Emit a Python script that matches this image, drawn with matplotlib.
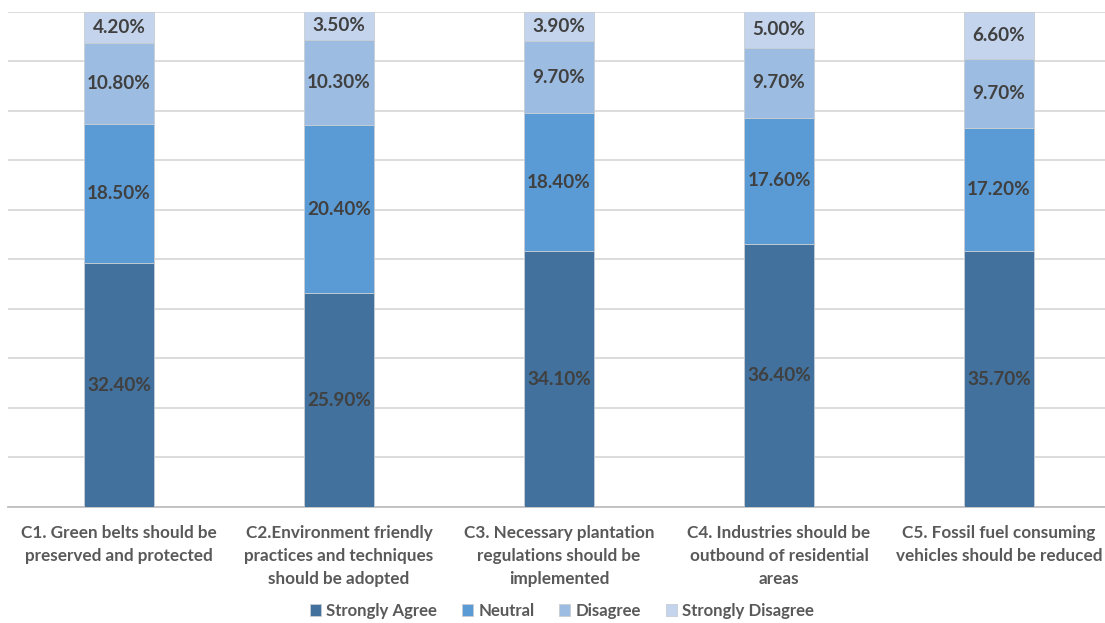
import matplotlib
matplotlib.use("Agg")
import matplotlib.pyplot as plt
import numpy as np

categories = [
    "C1. Green belts should be\npreserved and protected",
    "C2.Environment friendly\npractices and techniques\nshould be adopted",
    "C3. Necessary plantation\nregulations should be\nimplemented",
    "C4. Industries should be\noutbound of residential\nareas",
    "C5. Fossil fuel consuming\nvehicles should be reduced",
]
series_names = ["Strongly Agree", "Neutral", "Disagree", "Strongly Disagree"]
strongly_agree = [32.4, 25.9, 34.1, 36.4, 35.7]
neutral = [18.5, 20.4, 18.4, 17.6, 17.2]
disagree = [10.8, 10.3, 9.7, 9.7, 9.7]
strongly_disagree = [4.2, 3.5, 3.9, 5.0, 6.6]

colors = ["#41719C", "#5B9BD5", "#9CBCE1", "#C3D4EC"]

plt.rcParams['font.family'] = ['Lato', 'DejaVu Sans']

fig = plt.figure(figsize=(11.05, 6.23), dpi=100)
ax = fig.add_axes([8/1105, 1 - 507/623, 1 - 8/1105, (507 - 11.5)/623])

data = np.array([strongly_agree, neutral, disagree, strongly_disagree])
totals = data.sum(axis=0)
shares = data / totals * 100

x = np.arange(len(categories))
bottom = np.zeros(len(categories))
handles = []
for i, name in enumerate(series_names):
    b = ax.bar(x, shares[i], 0.315, bottom=bottom, color=colors[i],
               edgecolor="#c8cdd3", linewidth=0.6, label=name, zorder=3)
    handles.append(b)
    for xi, yb, h, v in zip(x, bottom, shares[i], data[i]):
        ax.text(xi, yb + h / 2, f"{v:.2f}%", ha="center", va="center",
                fontsize=13.6, fontweight="bold", color="#404040", zorder=4)
    bottom += shares[i]

ax.set_ylim(0, 100)
ax.set_yticks(np.arange(0, 101, 10))
ax.set_yticklabels([])
ax.tick_params(axis="y", length=0)
ax.yaxis.grid(True, color="#d9d9d9", linewidth=1.3, zorder=0)
ax.set_axisbelow(True)

ax.set_xlim((8 - 119) / 220, (1105 - 119) / 220)
ax.set_xticks(x)
ax.set_xticklabels(categories, fontsize=12.3, fontweight="bold", color="#595959",
                   linespacing=1.52, va="top")
ax.tick_params(axis="x", length=0, pad=13)

for s in ["top", "right", "left"]:
    ax.spines[s].set_visible(False)
ax.spines["bottom"].set_color("#bfbfbf")
ax.spines["bottom"].set_linewidth(1.3)

leg = fig.legend(handles=handles, labels=series_names, loc="center",
                 bbox_to_anchor=(562/1105, 1 - 611/623), ncol=4, frameon=False,
                 fontsize=12.1, handlelength=0.65, handleheight=0.65,
                 handletextpad=0.3, columnspacing=1.5)
for t in leg.get_texts():
    t.set_color("#595959")
    t.set_fontweight("bold")

fig.savefig("out.png", dpi=100)
